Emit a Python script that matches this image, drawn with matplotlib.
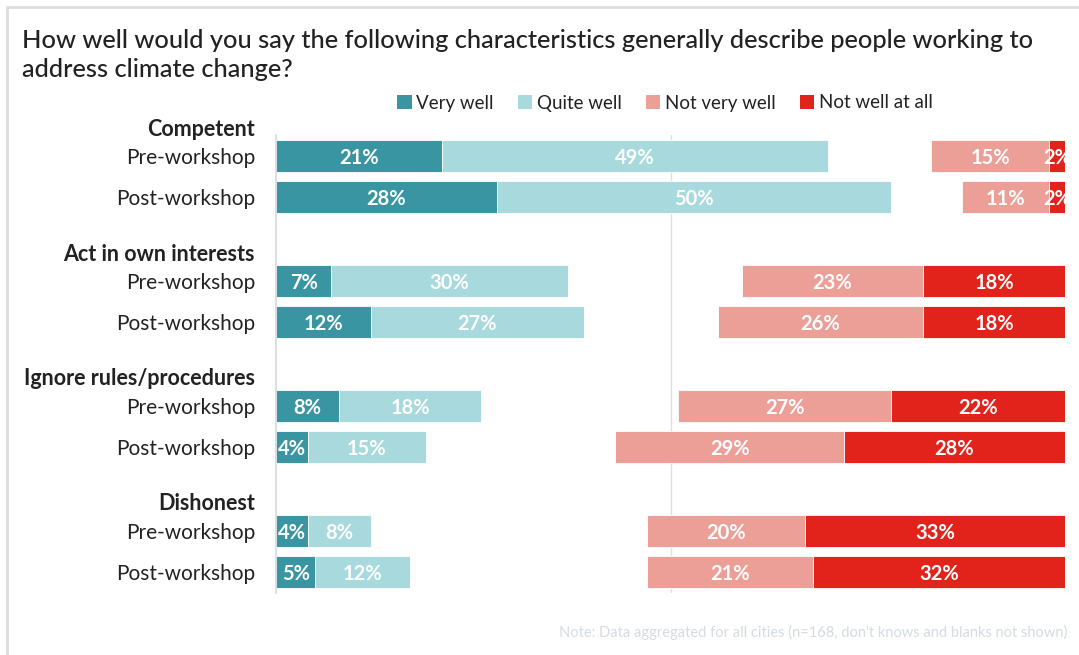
import matplotlib.pyplot as plt
from matplotlib.patches import Patch
from matplotlib.lines import Line2D

plt.rcParams['font.family'] = ['Lato', 'DejaVu Sans']

# survey results, percent of respondents
groups = ['Competent', 'Act in own interests', 'Ignore rules/procedures', 'Dishonest']
rows = ['Pre-workshop', 'Post-workshop']
very_well = [21, 28, 7, 12, 8, 4, 4, 5]
quite_well = [49, 50, 30, 27, 18, 15, 8, 12]
not_very_well = [15, 11, 23, 26, 27, 29, 20, 21]
not_well_at_all = [2, 2, 18, 18, 22, 28, 33, 32]

legend_labels = ['Very well', 'Quite well', 'Not very well', 'Not well at all']
colors = ['#3a95a3', '#a8d9dd', '#ec9f97', '#e2231c']
text_color = '#222222'

W, H = 1079, 655
fig = plt.figure(figsize=(W / 100, H / 100), dpi=100)
ax = fig.add_axes([276 / W, 62 / H, 789 / W, 458 / H])

# row positions: each group takes three slots (header, pre, post)
ypos = []
for g in range(len(groups)):
    ypos += [3 * g + 1, 3 * g + 2]

bar_h = 0.77


def label_bar(lefts, widths):
    for y, l, w in zip(ypos, lefts, widths):
        ax.text(l + w / 2, y, f'{w}%', ha='center', va='center_baseline', color='white',
                fontsize=14.5, fontweight='bold')


# positive answers grow from the left edge
ax.barh(ypos, very_well, height=bar_h, color=colors[0], edgecolor='white', linewidth=0.6)
ax.barh(ypos, quite_well, left=very_well, height=bar_h, color=colors[1],
        edgecolor='white', linewidth=0.6)
label_bar([0] * len(ypos), very_well)
label_bar(very_well, quite_well)

# negative answers are stacked against the right edge
nw_left = [100 - v for v in not_well_at_all]
nv_left = [100 - a - b for a, b in zip(not_well_at_all, not_very_well)]
ax.barh(ypos, not_very_well, left=nv_left, height=bar_h, color=colors[2],
        edgecolor='white', linewidth=0.6)
ax.barh(ypos, not_well_at_all, left=nw_left, height=bar_h, color=colors[3],
        edgecolor='white', linewidth=0.6)
label_bar(nv_left, not_very_well)
label_bar(nw_left, not_well_at_all)

ax.set_xlim(0, 100)
ax.set_ylim(11.5, 0.5)
ax.axvline(50, color='#dde1e4', linewidth=1, zorder=0)
for s in ['top', 'right', 'bottom']:
    ax.spines[s].set_visible(False)
ax.spines['left'].set_color('#d3d9de')
ax.spines['left'].set_linewidth(1.2)
ax.set_xticks([])
ax.set_yticks(ypos)
ax.set_yticklabels(rows * len(groups), fontsize=15, color=text_color)
ax.tick_params(axis='y', length=0, pad=15)

for g, name in enumerate(groups):
    ax.text(-21 / 7.89, 3 * g + 0.36, name, ha='right', va='center',
            fontsize=15.5, fontweight='bold', color=text_color)

fig.text(22 / W, 1 - 55 / H,
         'How well would you say the following characteristics generally describe people working to\naddress climate change?',
         ha='left', va='center', fontsize=18.3, fontweight='medium', color=text_color,
         linespacing=1.3)

handles = [Patch(facecolor=c) for c in colors]
fig.legend(handles, legend_labels, loc='center', bbox_to_anchor=(665 / W, 1 - 103 / H),
           ncol=4, frameon=False, fontsize=13.5, handlelength=0.75, handleheight=0.75,
           handletextpad=0.25, columnspacing=1.3, labelcolor=text_color)

fig.text(1067 / W, 1 - 632 / H,
         "Note: Data aggregated for all cities (n=168, don't knows and blanks not shown)",
         ha='right', va='center', fontsize=10.5, color='#d5dbe0')

# light frame on the top and left edges
fig.add_artist(Line2D([7 / W, 7 / W, 1], [0, 1 - 7 / H, 1 - 7 / H],
                      color='#dddddd', linewidth=2, transform=fig.transFigure))

fig.savefig('out.png', dpi=100)
